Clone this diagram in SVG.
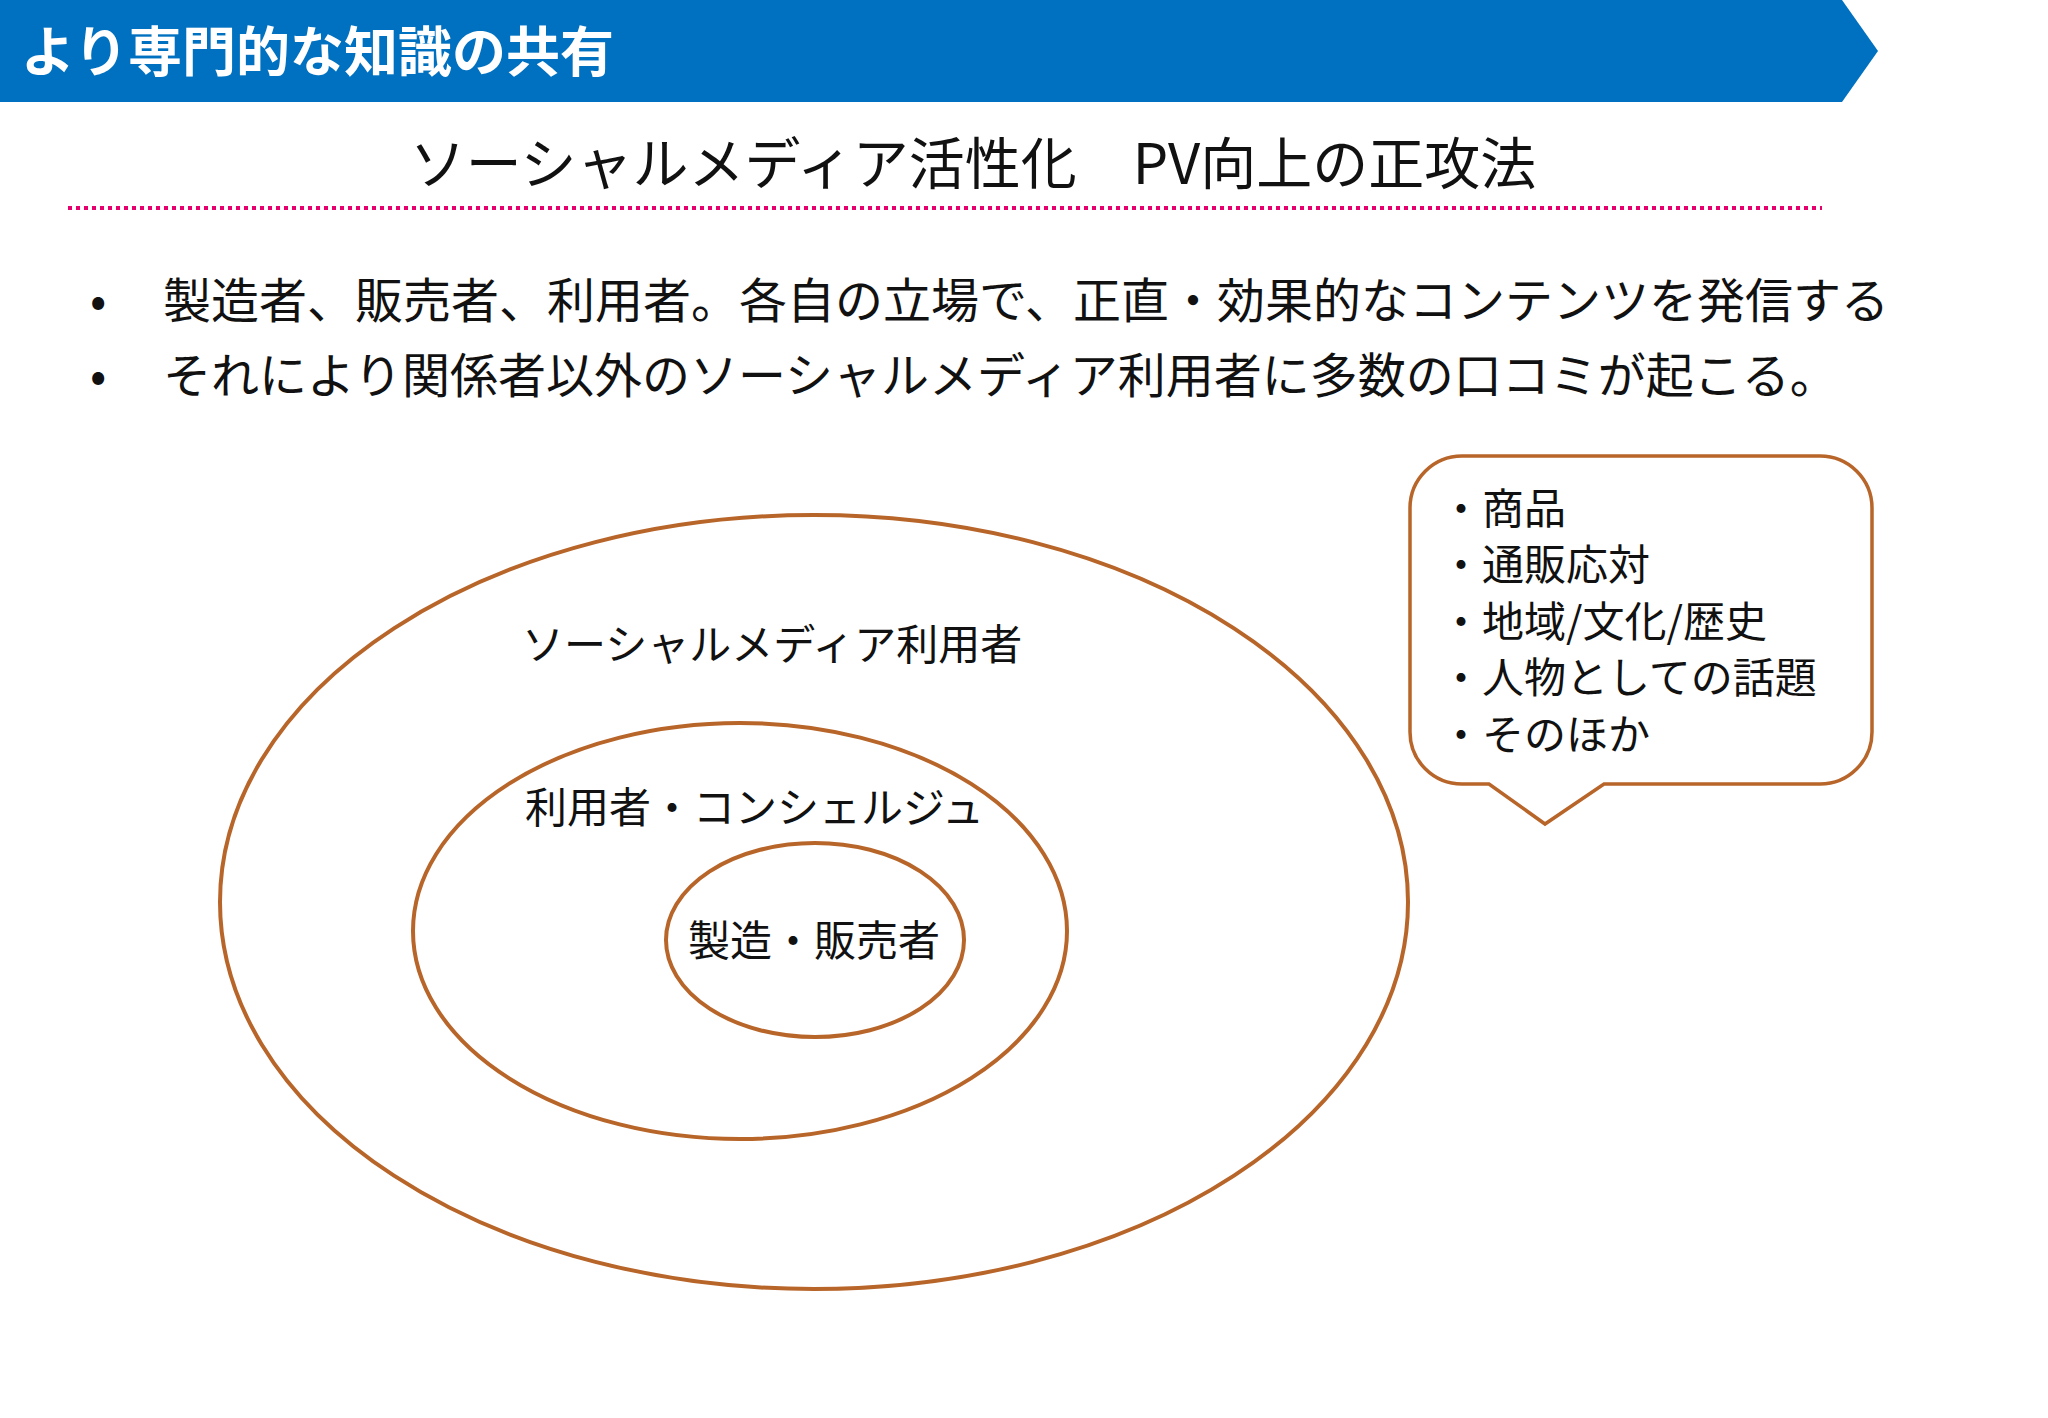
<svg xmlns="http://www.w3.org/2000/svg" width="2048" height="1418" viewBox="0 0 2048 1418">
<style>
text{font-family:"Noto Sans CJK JP","Noto Sans",sans-serif;fill:#111}
.b{font-size:48px}
.e{font-size:42px}
.ring{fill:none;stroke:#B8652A;stroke-width:4}
</style>
<rect width="2048" height="1418" fill="#fff"/>
<g id="header">
<polygon points="0,0 1842,0 1878,51 1842,102 0,102" fill="#0070C0"/>
<text x="21" y="72" style="font-size:54px;font-weight:bold;fill:#fff">より専門的な知識の共有</text>
</g>
<g id="title">
<text x="973" y="184" text-anchor="middle" style="font-size:56px">ソーシャルメディア活性化　PV向上の正攻法</text>
<line x1="68" y1="208" x2="1822" y2="208" stroke="#E6006E" stroke-width="4" stroke-dasharray="4,4"/>
</g>
<g id="bullets">
<text x="90" y="318" class="b">•</text>
<text x="163" y="318" class="b">製造者、販売者、利用者。各自の立場で、正直・効果的なコンテンツを発信する</text>
<text x="90" y="393" class="b">•</text>
<text x="163" y="393" class="b">それにより関係者以外のソーシャルメディア利用者に多数の口コミが起こる。</text>
</g>
<g id="outer"><ellipse class="ring" cx="814" cy="902" rx="594" ry="387"/>
<text x="522" y="660" class="e">ソーシャルメディア利用者</text></g>
<g id="middle"><ellipse class="ring" cx="740" cy="931" rx="327" ry="208"/>
<text x="525" y="823" class="e">利用者・コンシェルジュ</text></g>
<g id="inner"><ellipse class="ring" cx="815" cy="940" rx="149" ry="97"/>
<text x="688" y="956" class="e">製造・販売者</text></g>
<g id="callout">
<path d="M1462,456 H1820 A52,52 0 0 1 1872,508 V732 A52,52 0 0 1 1820,784 H1604 L1545,824 L1489,784 H1462 A52,52 0 0 1 1410,732 V508 A52,52 0 0 1 1462,456 Z" fill="#fff" stroke="#B8652A" stroke-width="3.5"/>
<text x="1440" y="524" class="e">・商品</text>
<text x="1440" y="580" class="e">・通販応対</text>
<text x="1440" y="637" class="e">・地域/文化/歴史</text>
<text x="1440" y="693" class="e">・人物としての話題</text>
<text x="1440" y="750" class="e">・そのほか</text>
</g>
</svg>
